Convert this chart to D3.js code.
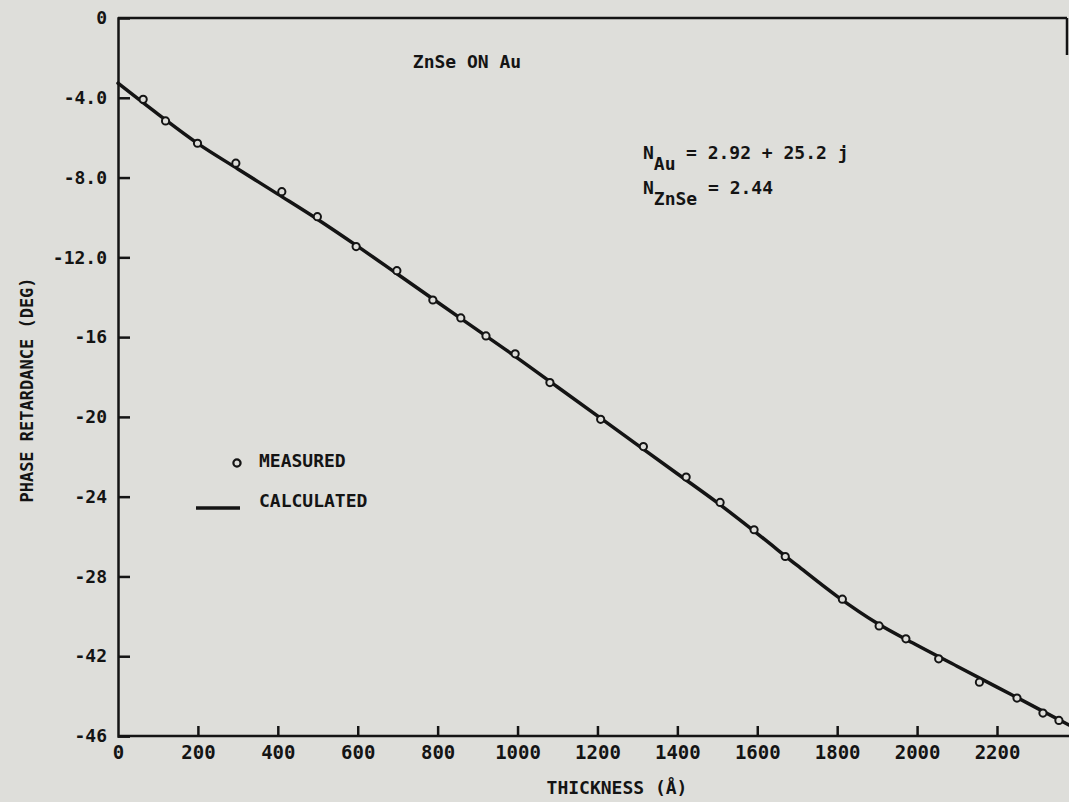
<!DOCTYPE html>
<html>
<head>
<meta charset="utf-8">
<script src="https://cdn.jsdelivr.net/npm/d3@7"></script>
<style>
  html, body { margin: 0; padding: 0; background: #dededa; }
  svg { display: block; }
  text { font-family: "DejaVu Sans Mono", monospace; font-weight: bold; fill: #141414; }
</style>
</head>
<body>
<svg id="chart" width="1069" height="802"></svg>
<script>
// ---- data ----
const xTicks = [0, 200, 400, 600, 800, 1000, 1200, 1400, 1600, 1800, 2000, 2200];
const xTickLabels = ["0", "200", "400", "600", "800", "1000", "1200", "1400", "1600", "1800", "2000", "2200"];
const yTicks = [0, -4, -8, -12, -16, -20, -24, -28, -32, -36];
const yTickLabels = ["0", "-4.0", "-8.0", "-12.0", "-16", "-20", "-24", "-28", "-42", "-46"];

const measuredThickness = [63, 119, 199, 295, 410, 499, 596, 698, 788, 858, 921, 994, 1081, 1208, 1315, 1422, 1507, 1592, 1670, 1813, 1905, 1972, 2054, 2156, 2250, 2315, 2355];
const measuredPhase = [-4.08, -5.16, -6.28, -7.28, -8.71, -9.96, -11.46, -12.67, -14.14, -15.04, -15.94, -16.84, -18.28, -20.12, -21.49, -23.02, -24.29, -25.66, -27.00, -29.14, -30.48, -31.13, -32.13, -33.30, -34.10, -34.85, -35.22];

const calcThickness = [0, 100, 200, 300, 400, 500, 600, 700, 800, 900, 1000, 1100, 1200, 1300, 1400, 1500, 1600, 1700, 1800, 1900, 2000, 2100, 2200, 2300, 2380];
const calcPhase = [-3.27, -4.82, -6.30, -7.57, -8.83, -10.10, -11.45, -12.85, -14.25, -15.65, -17.05, -18.50, -19.95, -21.40, -22.85, -24.30, -25.85, -27.45, -29.00, -30.35, -31.45, -32.50, -33.55, -34.60, -35.45];

// ---- scales ----
const svg = d3.select("#chart");
const x = d3.scaleLinear().domain([0, 2200]).range([118, 997]);
const y = d3.scaleLinear().domain([0, -36]).range([18, 736]);
const ink = "#141414";

// frame lines (top, partial right, bottom extending past the last tick)
svg.append("line").attr("x1", x(0)).attr("x2", 1067).attr("y1", y(0)).attr("y2", y(0))
  .attr("stroke", ink).attr("stroke-width", 2.5);
svg.append("line").attr("x1", 1067).attr("x2", 1067).attr("y1", y(0)).attr("y2", 55)
  .attr("stroke", ink).attr("stroke-width", 2.5);
svg.append("line").attr("x1", x(0)).attr("x2", 1069).attr("y1", y(-36)).attr("y2", y(-36))
  .attr("stroke", ink).attr("stroke-width", 2.5);

// y axis
const yAxis = d3.axisLeft(y).tickValues(yTicks)
  .tickFormat((d, i) => yTickLabels[i]).tickSize(-12).tickPadding(11);
const gy = svg.append("g").attr("transform", `translate(${x(0)},0)`).call(yAxis);
gy.select(".domain").attr("stroke", ink).attr("stroke-width", 2.5);
gy.selectAll(".tick line").attr("stroke", ink).attr("stroke-width", 2.5)
  .filter(d => d === 0).remove();
gy.selectAll(".tick text").attr("font-size", 18).attr("fill", ink);

// x axis
const xAxis = d3.axisBottom(x).tickValues(xTicks)
  .tickFormat((d, i) => xTickLabels[i]).tickSize(-10).tickSizeOuter(0).tickPadding(10);
const gx = svg.append("g").attr("transform", `translate(0,${y(-36)})`).call(xAxis);
gx.select(".domain").remove();
gx.selectAll(".tick line").attr("stroke", ink).attr("stroke-width", 2.5)
  .filter(d => d === 0).remove();
gx.selectAll(".tick text").attr("font-size", 19).attr("fill", ink);

// axis titles
svg.append("text").attr("x", 617).attr("y", 794).attr("text-anchor", "middle")
  .attr("font-size", 18).text("THICKNESS (Å)");
svg.append("text").attr("transform", "translate(33,390) rotate(-90)")
  .attr("text-anchor", "middle").attr("font-size", 17).text("PHASE RETARDANCE (DEG)");

// calculated curve
const calc = calcThickness.map((t, i) => [t, calcPhase[i]]);
svg.append("path").datum(calc)
  .attr("d", d3.line().x(d => x(d[0])).y(d => y(d[1])).curve(d3.curveMonotoneX))
  .attr("fill", "none").attr("stroke", ink).attr("stroke-width", 3.5)
  .attr("stroke-linecap", "round").attr("stroke-linejoin", "round");

// measured points
const meas = measuredThickness.map((t, i) => [t, measuredPhase[i]]);
svg.append("g").selectAll("circle").data(meas).join("circle")
  .attr("cx", d => x(d[0])).attr("cy", d => y(d[1])).attr("r", 3.6)
  .attr("fill", "#dededa").attr("stroke", ink).attr("stroke-width", 2);

// title annotation
svg.append("text").attr("x", 467).attr("y", 68).attr("text-anchor", "middle")
  .attr("font-size", 18).text("ZnSe ON Au");

// refractive indices
const t1 = svg.append("text").attr("x", 643).attr("y", 159).attr("font-size", 18);
t1.append("tspan").text("N");
t1.append("tspan").attr("dy", 11).text("Au");
t1.append("tspan").attr("dy", -11).attr("x", 686).text("= 2.92 + 25.2 j");
const t2 = svg.append("text").attr("x", 643).attr("y", 194).attr("font-size", 18);
t2.append("tspan").text("N");
t2.append("tspan").attr("dy", 11).text("ZnSe");
t2.append("tspan").attr("dy", -11).attr("x", 708).text("= 2.44");

// legend
svg.append("circle").attr("cx", 237).attr("cy", 463).attr("r", 3.6)
  .attr("fill", "#dededa").attr("stroke", ink).attr("stroke-width", 2.2);
svg.append("text").attr("x", 259).attr("y", 467).attr("font-size", 18).text("MEASURED");
svg.append("line").attr("x1", 196).attr("x2", 240).attr("y1", 508).attr("y2", 508)
  .attr("stroke", ink).attr("stroke-width", 3.5);
svg.append("text").attr("x", 259).attr("y", 507).attr("font-size", 18).text("CALCULATED");
</script>
</body>
</html>
